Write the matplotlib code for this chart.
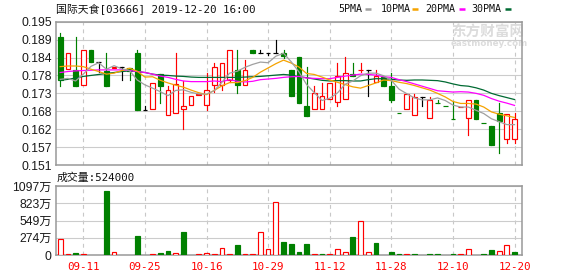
import matplotlib
matplotlib.use('Agg')
import matplotlib.pyplot as plt
from matplotlib.patches import Rectangle
from matplotlib.lines import Line2D
import numpy as np

# daily candles, left to right (60 sessions)
opens = [0.1903, 0.1806, 0.1803, 0.1755, 0.1863, 0.1825, 0.1800, 0.1809, 0.1811, 0.1808,
         0.1854, 0.1680, 0.1681, 0.1789, 0.1663, 0.1671, 0.1681, 0.1693, 0.1726, 0.1693,
         0.1755, 0.1755, 0.1772, 0.1801, 0.1755, 0.1863, 0.1855, 0.1855, 0.1855, 0.1855,
         0.1803, 0.1842, 0.1691, 0.1681, 0.1681, 0.1712, 0.1703, 0.1712, 0.1788, 0.1801,
         0.1801, 0.1765, 0.1781, 0.1752, 0.1669, 0.1682, 0.1663, 0.1720, 0.1654, 0.1700,
         0.1690, 0.1651, 0.1689, 0.1654, 0.1711, 0.1638, 0.1631, 0.1669, 0.1591, 0.1591]
highs = [0.1916, 0.1853, 0.1902, 0.1862, 0.1863, 0.1825, 0.1854, 0.1812, 0.1811, 0.1808,
         0.1863, 0.1691, 0.1761, 0.1789, 0.1752, 0.1854, 0.1768, 0.1721, 0.1728, 0.1793,
         0.1823, 0.1822, 0.1862, 0.1863, 0.1832, 0.1863, 0.1862, 0.1855, 0.1894, 0.1863,
         0.1803, 0.1842, 0.1811, 0.1752, 0.1762, 0.1761, 0.1823, 0.1842, 0.1823, 0.1823,
         0.1801, 0.1801, 0.1781, 0.1793, 0.1669, 0.1728, 0.1729, 0.1720, 0.1720, 0.1711,
         0.1690, 0.1706, 0.1689, 0.1709, 0.1711, 0.1638, 0.1631, 0.1700, 0.1667, 0.1670]
lows = [0.1754, 0.1806, 0.1754, 0.1755, 0.1825, 0.1795, 0.1754, 0.1809, 0.1772, 0.1772,
        0.1680, 0.1680, 0.1681, 0.1701, 0.1663, 0.1671, 0.1622, 0.1693, 0.1726, 0.1680,
        0.1734, 0.1741, 0.1765, 0.1731, 0.1755, 0.1855, 0.1855, 0.1848, 0.1855, 0.1838,
        0.1723, 0.1701, 0.1661, 0.1681, 0.1681, 0.1712, 0.1692, 0.1712, 0.1782, 0.1795,
        0.1723, 0.1765, 0.1754, 0.1703, 0.1669, 0.1682, 0.1663, 0.1692, 0.1654, 0.1700,
        0.1690, 0.1651, 0.1689, 0.1601, 0.1652, 0.1638, 0.1571, 0.1547, 0.1578, 0.1578]
closes = [0.1772, 0.1853, 0.1754, 0.1862, 0.1825, 0.1825, 0.1754, 0.1811, 0.1811, 0.1800,
          0.1680, 0.1680, 0.1761, 0.1754, 0.1740, 0.1760, 0.1691, 0.1721, 0.1728, 0.1740,
          0.1810, 0.1822, 0.1862, 0.1755, 0.1801, 0.1855, 0.1855, 0.1855, 0.1855, 0.1845,
          0.1723, 0.1701, 0.1661, 0.1731, 0.1722, 0.1761, 0.1782, 0.1793, 0.1782, 0.1801,
          0.1801, 0.1782, 0.1754, 0.1711, 0.1669, 0.1728, 0.1720, 0.1720, 0.1711, 0.1700,
          0.1690, 0.1651, 0.1689, 0.1709, 0.1652, 0.1638, 0.1571, 0.1644, 0.1667, 0.1651]
prev_close_first = 0.1760

# volume in 万 shares
volumes = [250, 10, 37, 10, 0, 0, 1021, 43, 0, 0,
           303, 0, 10, 37, 64, 37, 367, 0, 10, 32,
           10, 106, 10, 160, 10, 10, 362, 90, 840, 207,
           176, 48, 176, 10, 10, 10, 90, 48, 287, 537,
           48, 192, 0, 48, 10, 10, 10, 0, 10, 10,
           0, 10, 10, 90, 0, 10, 80, 64, 160, 52.4]

# moving averages as drawn
ma5 = [0.1773, 0.1776, 0.1768, 0.1789, 0.1813, 0.1824, 0.1804, 0.1815, 0.1805, 0.1800,
       0.1771, 0.1756, 0.1746, 0.1735, 0.1723, 0.1739, 0.1741, 0.1733, 0.1728, 0.1728,
       0.1738, 0.1764, 0.1792, 0.1798, 0.1810, 0.1819, 0.1826, 0.1824, 0.1844, 0.1853,
       0.1827, 0.1796, 0.1757, 0.1732, 0.1708, 0.1715, 0.1731, 0.1758, 0.1768, 0.1784,
       0.1792, 0.1792, 0.1784, 0.1770, 0.1743, 0.1729, 0.1716, 0.1710, 0.1710, 0.1716,
       0.1708, 0.1694, 0.1688, 0.1688, 0.1678, 0.1668, 0.1652, 0.1643, 0.1634, 0.1634]
ma10 = [0.1812, 0.1814, 0.1814, 0.1812, 0.1804, 0.1797, 0.1789, 0.1792, 0.1800, 0.1807,
        0.1798, 0.1780, 0.1781, 0.1770, 0.1762, 0.1755, 0.1749, 0.1740, 0.1732, 0.1726,
        0.1739, 0.1753, 0.1763, 0.1763, 0.1769, 0.1779, 0.1795, 0.1808, 0.1821, 0.1832,
        0.1823, 0.1811, 0.1791, 0.1788, 0.1780, 0.1771, 0.1764, 0.1757, 0.1750, 0.1746,
        0.1754, 0.1762, 0.1771, 0.1769, 0.1764, 0.1760, 0.1754, 0.1747, 0.1740, 0.1730,
        0.1719, 0.1705, 0.1699, 0.1699, 0.1697, 0.1688, 0.1673, 0.1666, 0.1661, 0.1656]
ma20 = [0.1794, 0.1797, 0.1799, 0.1800, 0.1801, 0.1802, 0.1802, 0.1802, 0.1802, 0.1800,
        0.1797, 0.1794, 0.1789, 0.1783, 0.1779, 0.1773, 0.1768, 0.1766, 0.1766, 0.1766,
        0.1768, 0.1766, 0.1772, 0.1767, 0.1765, 0.1767, 0.1772, 0.1774, 0.1776, 0.1779,
        0.1781, 0.1782, 0.1777, 0.1776, 0.1775, 0.1775, 0.1779, 0.1783, 0.1786, 0.1789,
        0.1788, 0.1786, 0.1781, 0.1779, 0.1772, 0.1766, 0.1759, 0.1752, 0.1745, 0.1738,
        0.1736, 0.1734, 0.1735, 0.1734, 0.1730, 0.1724, 0.1714, 0.1706, 0.1700, 0.1693]
ma30 = [0.1770, 0.1773, 0.1777, 0.1782, 0.1785, 0.1788, 0.1791, 0.1794, 0.1797, 0.1799,
        0.1797, 0.1794, 0.1789, 0.1786, 0.1785, 0.1783, 0.1782, 0.1780, 0.1779, 0.1779,
        0.1779, 0.1779, 0.1779, 0.1779, 0.1780, 0.1781, 0.1782, 0.1784, 0.1786, 0.1788,
        0.1786, 0.1781, 0.1778, 0.1774, 0.1770, 0.1768, 0.1769, 0.1769, 0.1768, 0.1768,
        0.1772, 0.1775, 0.1775, 0.1773, 0.1771, 0.1770, 0.1771, 0.1771, 0.1770, 0.1769,
        0.1765, 0.1759, 0.1754, 0.1752, 0.1747, 0.1740, 0.1730, 0.1723, 0.1717, 0.1711]

date_labels = ['09-11', '09-25', '10-16', '10-29', '11-12', '11-28', '12-10', '12-20']
date_slots = [3, 11, 19, 27, 35, 43, 51, 59]
price_tick_labels = ['0.151', '0.157', '0.162', '0.168', '0.173', '0.178', '0.184', '0.189', '0.195']
vol_tick_labels = ['0', '274万', '549万', '823万', '1097万']
vol_max = 1097
title = '国际天食[03666] 2019-12-20 16:00'
vol_label = '成交量:524000'
ma_names = ['5PMA', '10PMA', '20PMA', '30PMA']

RED = '#ff0000'
GREEN = '#008000'
ma_colors = ['#a0a0a0', '#f5a300', '#ff00ff', '#006a32']
MONO = ['DejaVu Sans Mono', 'Noto Sans CJK SC']
SANS = ['Liberation Sans', 'Noto Sans CJK SC']

W, H = 578, 276
fig = plt.figure(figsize=(W / 100, H / 100), dpi=100)


def fx(x):
    return x / W


def fy(y):
    return 1 - y / H


ax = fig.add_axes([fx(56), fy(165), fx(522) - fx(56), fy(21.7) - fy(165)])
axv = fig.add_axes([fx(56), fy(255), fx(522) - fx(56), fy(186) - fy(255)])

n = len(closes)
x = np.arange(n)
bw = 0.62
lw = 0.85

prevs = [prev_close_first] + closes[:-1]
for i in range(n):
    o, h, l, c, p = opens[i], highs[i], lows[i], closes[i], prevs[i]
    if c > o:
        col = RED
    elif c < o:
        col = GREEN
    elif c > p:
        col = RED
    elif c < p:
        col = GREEN
    else:
        col = 'black'
    top, bot = max(o, c), min(o, c)
    if c == o:
        ax.plot([i - bw / 2, i + bw / 2], [c, c], color=col, lw=lw, solid_capstyle='butt', zorder=3)
        ax.plot([i, i], [l, h], color=col, lw=lw, zorder=3)
    elif col == RED:
        ax.add_patch(Rectangle((i - bw / 2, bot), bw, top - bot, facecolor='white',
                               edgecolor=RED, lw=lw, zorder=3))
        if h > top:
            ax.plot([i, i], [top, h], color=RED, lw=lw, zorder=3)
        if l < bot:
            ax.plot([i, i], [l, bot], color=RED, lw=lw, zorder=3)
    else:
        ax.plot([i, i], [l, h], color=GREEN, lw=lw, zorder=3)
        ax.add_patch(Rectangle((i - bw / 2, bot), bw, top - bot, facecolor=GREEN,
                               edgecolor=GREEN, lw=lw, zorder=3))

    v = volumes[i]
    if v > 0:
        if c >= p:
            axv.add_patch(Rectangle((i - bw / 2, 0), bw, v, facecolor='white',
                                    edgecolor=RED, lw=lw, zorder=3))
        else:
            axv.add_patch(Rectangle((i - bw / 2, 0), bw, v, facecolor=GREEN,
                                    edgecolor=GREEN, lw=lw, zorder=3))

for ma, colr in zip([ma30, ma20, ma10, ma5], ma_colors[::-1]):
    ax.plot(x, ma, color=colr, lw=0.9, zorder=4)

xlim = (-0.545, 59.97)
for a in (ax, axv):
    a.set_xlim(*xlim)
    a.set_xticks(date_slots)
    a.grid(axis='x', color='#c8c8c8', lw=0.8, linestyle=(0, (3.5, 3.5)))
    a.grid(axis='y', color='#cccccc', lw=0.8, linestyle='-')
    a.set_axisbelow(True)
    a.tick_params(length=0)
    for s in a.spines.values():
        s.set_color('#999999')
        s.set_linewidth(1.1)

ax.set_ylim(0.151, 0.195)
ax.set_yticks(np.linspace(0.151, 0.195, len(price_tick_labels)))
ax.set_yticklabels(price_tick_labels, family=SANS, fontsize=8.7, color='#1a1a1a')
ax.tick_params(axis='y', pad=3)
ax.set_xticklabels([])

axv.set_ylim(0, vol_max)
axv.set_yticks(np.linspace(0, vol_max, len(vol_tick_labels)))
axv.set_yticklabels(vol_tick_labels, family=SANS, fontsize=8.7, color='#1a1a1a')
axv.tick_params(axis='y', pad=3)
axv.set_xticklabels(date_labels, family=MONO, fontsize=7.8, color=RED)
axv.tick_params(axis='x', pad=5)

fig.text(fx(56), fy(8.5), title, family=MONO, fontsize=7.8, color='#111111', va='center', ha='left')
fig.text(fx(57), fy(177.7), vol_label, family=MONO, fontsize=7.8, color='#111111', va='center', ha='left')

leg_text_x = [338, 380.3, 425.7, 471.7]
leg_dash_x = [364.7, 411.5, 458.5, 504.7]
for name, tx, dx, colr in zip(ma_names, leg_text_x, leg_dash_x, ma_colors):
    fig.text(fx(tx), fy(9), name, family=MONO, fontsize=7.2, color='#111111', va='center', ha='left')
    fig.add_artist(Line2D([fx(dx), fx(dx + 6)], [fy(9.3), fy(9.3)], color=colr, lw=1.8,
                          solid_capstyle='butt'))

# watermark behind the candles
ax.text(fx(451), fy(32), '东方财富网', transform=fig.transFigure, family=['Noto Sans CJK SC'],
        fontsize=10.5, fontweight='bold', color='#dcdcdc', va='center', ha='left', zorder=1)
ax.text(fx(451), fy(43.5), 'eastmoney.com', transform=fig.transFigure, family=['DejaVu Sans'],
        fontsize=6.3, fontweight='bold', color='#dcdcdc', va='center', ha='left', zorder=1)

fig.savefig('out.png', dpi=100)
